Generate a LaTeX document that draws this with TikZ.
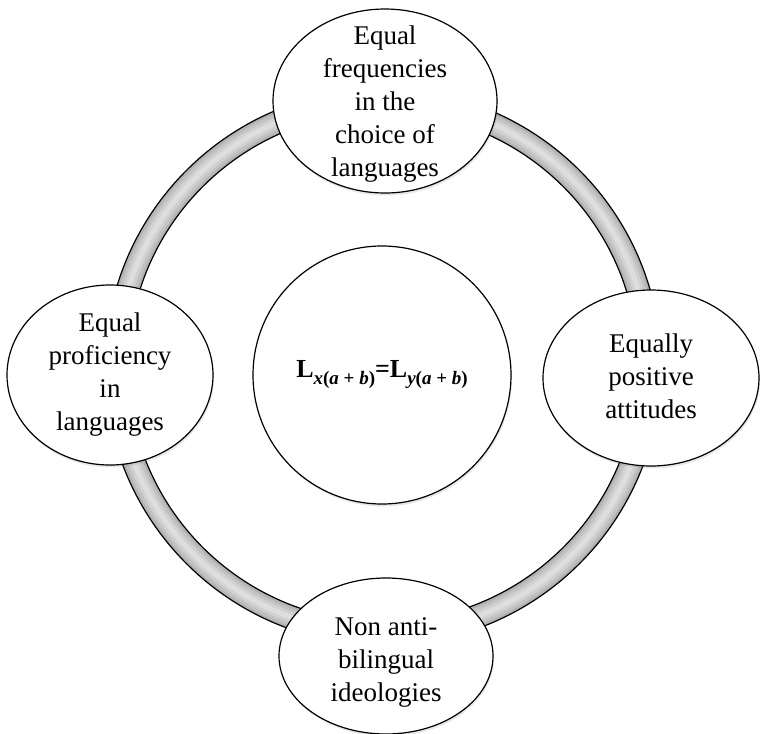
\documentclass[tikz,border=0pt]{standalone}
\usepackage{fontspec}
\setmainfont{Liberation Serif}
\usepackage{tikz}
\usetikzlibrary{shapes.geometric,shadows}
\tikzstyle{bubble} = [ellipse, draw=black, line width=1.2pt, fill=white, inner sep=0pt, drop shadow={opacity=0.18, shadow xshift=1pt, shadow yshift=-2.5pt}]
\tikzstyle{bubbletext} = [align=center, font=\fontsize{27}{33}\selectfont]
\newcommand{\abform}[1]{\raisebox{-7pt}{\fontsize{19}{19}\selectfont\bfseries\itshape #1\upshape(\itshape a \upshape+ \itshape b\upshape)}}

\begin{document}
\begin{tikzpicture}[x=1pt, y=-1pt]
        \useasboundingbox (0,0) rectangle (761,734);
        \coordinate (hub) at (383,367);
        % the ring
        \foreach \w/\c in {23/gray!60, 17/gray!48, 11/gray!36, 5/gray!26}
            \draw [line width=\w pt, \c] (hub) circle (266.5pt);
        \draw [line width=1.2pt] (hub) circle (278pt) (hub) circle (255pt);
        % middle
        \node (centre) [circle, draw=black, line width=1.2pt, fill=white, minimum size=258pt, inner sep=0pt, drop shadow={opacity=0.18, shadow xshift=1pt, shadow yshift=-2.5pt}] at (382,375) {\fontsize{26}{30}\selectfont\bfseries L\abform{x}=L\abform{y}};
        % the four bubbles
        \node (freq) [bubble, minimum width=224pt, minimum height=184pt, label={[bubbletext, yshift=-3pt]center:Equal\\frequencies\\in the\\choice of\\languages}] at (385,101) {};
        \node (prof) [bubble, minimum width=206pt, minimum height=180pt, label={[bubbletext]center:Equal\\proficiency\\in\\languages}] at (110,375) {};
        \node (attit) [bubble, minimum width=216pt, minimum height=176pt, label={[bubbletext, yshift=2pt]center:Equally\\positive\\attitudes}] at (651,378) {};
        \node (ideol) [bubble, minimum width=214pt, minimum height=156pt, label={[bubbletext, yshift=-6pt]center:Non anti-\\bilingual\\ideologies}] at (386,656) {};
    \end{tikzpicture}
\end{document}
